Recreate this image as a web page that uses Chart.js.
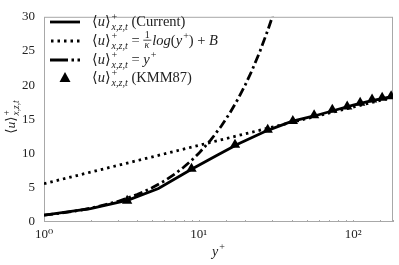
<!DOCTYPE html>
<html>
<head>
<meta charset="utf-8">
<script src="https://cdn.jsdelivr.net/npm/chart.js@4.4.1/dist/chart.umd.min.js"></script>
<style>
html, body { margin: 0; padding: 0; background: #fff; }
#wrap { width: 399px; height: 265px; }
</style>
</head>
<body>
<div id="wrap"><canvas id="myChart"></canvas></div>
<script>
// values
const currentYPlus = [1, 2, 3.5, 5.5, 9, 13, 18, 28, 40, 56, 75, 100, 130, 181];
const currentU = [1.0, 1.95, 3.2, 4.9, 7.7, 9.7, 11.4, 13.4, 14.7, 15.5, 16.3, 17.1, 17.7, 18.35];

const logLawYPlus = [1, 10, 100, 181];
const logLawU = [5.6, 11.2, 16.8, 18.25];

const linearYPlus = [1, 1.5, 2, 3, 4, 5, 6, 7, 8, 9, 10, 12, 14, 16, 18, 20, 22, 25, 28, 30, 32];
const linearU = [1, 1.5, 2, 3, 4, 5, 6, 7, 8, 9, 10, 12, 14, 16, 18, 20, 22, 25, 28, 30, 32];

const kmmYPlus = [3.45, 9.0, 17.2, 28.0, 40.7, 55.9, 73.3, 91.5, 111, 132.5, 154, 176];
const kmmU = [3.1, 7.8, 11.3, 13.5, 14.75, 15.6, 16.4, 16.9, 17.45, 17.9, 18.15, 18.4];

const xTickLabels = { 1: '10⁰', 10: '10¹', 100: '10²' };

const SERIF = '"Liberation Serif", "DejaVu Serif", serif';

const toXY = (xs, ys) => xs.map((x, i) => ({ x: x, y: ys[i] }));

function txt(ctx, s, x, y, size, italic) {
    ctx.font = (italic ? 'italic ' : '') + size + 'px ' + SERIF;
    ctx.fillText(s, x, y);
    return x + ctx.measureText(s).width;
}

// <u>^+_{x,z,t}
function uMean(ctx, x, y, size) {
    x = txt(ctx, '⟨', x, y, size, false);
    x = txt(ctx, 'u', x, y, size, true);
    x = txt(ctx, '⟩', x, y, size, false);
    const s = size * 0.7;
    const a = txt(ctx, '+', x + 1, y - size * 0.4, s, false);
    const b = txt(ctx, 'x,z,t', x + 1, y + size * 0.3, s, true);
    return Math.max(a, b);
}

const decor = {
    id: 'decor',
    beforeDatasetsDraw(chart) {
        const { ctx, chartArea: a } = chart;
        ctx.save();
        ctx.strokeStyle = '#a8a8a8';
        ctx.lineWidth = 1;
        ctx.strokeRect(a.left + 0.5, a.top + 0.5, a.right - a.left - 1, a.bottom - a.top - 1);
        const xs = chart.scales.x;
        ctx.beginPath();
        xs.ticks.forEach(t => {
            const px = Math.round(xs.getPixelForValue(t.value)) + 0.5;
            ctx.moveTo(px, a.bottom);
            ctx.lineTo(px, a.bottom - 2);
        });
        ctx.stroke();
        ctx.restore();
    },
    afterDraw(chart) {
        const { ctx } = chart;
        const size = 14.5;
        ctx.save();
        ctx.fillStyle = '#222';
        ctx.strokeStyle = '#000';
        ctx.textBaseline = 'alphabetic';

        // y axis title
        const ys = 13.5;
        ctx.save();
        const w = uMean(ctx, 0, -1000, ys);
        ctx.restore();
        ctx.save();
        ctx.fillStyle = '#fff';
        ctx.fillRect(0, 0, 0, 0);
        ctx.restore();
        ctx.save();
        ctx.fillStyle = '#222';
        ctx.translate(15, 117 + w / 2);
        ctx.rotate(-Math.PI / 2);
        uMean(ctx, 0, 0, ys);
        ctx.restore();

        // x axis title
        ctx.textAlign = 'left';
        let xx = txt(ctx, 'y', 212, 256, 14, true);
        txt(ctx, '+', xx + 1, 250, 10, false);

        // legend
        const rows = [22, 41, 60, 78];
        ctx.lineWidth = 2.8;
        ctx.lineCap = 'butt';
        ctx.beginPath();
        ctx.moveTo(50, rows[0]); ctx.lineTo(80, rows[0]);
        ctx.stroke();
        ctx.setLineDash([2.5, 4]);
        ctx.beginPath();
        ctx.moveTo(51, rows[1]); ctx.lineTo(81, rows[1]);
        ctx.stroke();
        ctx.setLineDash([18, 3.5, 2.5, 3.5, 2.5, 10]);
        ctx.beginPath();
        ctx.moveTo(50, rows[2]); ctx.lineTo(81, rows[2]);
        ctx.stroke();
        ctx.setLineDash([]);
        ctx.fillStyle = '#000';
        ctx.beginPath();
        ctx.moveTo(65, rows[3] - 6); ctx.lineTo(70.5, rows[3] + 4); ctx.lineTo(59.5, rows[3] + 4);
        ctx.closePath();
        ctx.fill();

        ctx.fillStyle = '#222';
        const tx = 92;
        let x;
        x = uMean(ctx, tx, rows[0] + 4, size);
        txt(ctx, ' (Current)', x, rows[0] + 4, size, false);

        const b2 = rows[1] + 4;
        x = uMean(ctx, tx, b2, size);
        x = txt(ctx, ' = ', x, b2, size, false);
        ctx.font = '10px ' + SERIF;
        const fw = Math.max(ctx.measureText('1').width, ctx.measureText('κ').width + 1) + 2;
        txt(ctx, '1', x + fw / 2 - 2.5, b2 - 7, 10, false);
        txt(ctx, 'κ', x + fw / 2 - 2.8, b2 + 3, 10, true);
        ctx.lineWidth = 0.7;
        ctx.beginPath();
        ctx.moveTo(x, b2 - 4.8); ctx.lineTo(x + fw, b2 - 4.8);
        ctx.stroke();
        x += fw + 1;
        x = txt(ctx, 'log', x, b2, size, true);
        x = txt(ctx, '(', x, b2, size, false);
        x = txt(ctx, 'y', x, b2, size, true);
        x = txt(ctx, '+', x + 1, b2 - size * 0.4, size * 0.7, false);
        x = txt(ctx, ') + ', x, b2, size, false);
        txt(ctx, 'B', x, b2, size, true);

        const b3 = rows[2] + 4;
        x = uMean(ctx, tx, b3, size);
        x = txt(ctx, ' = ', x, b3, size, false);
        x = txt(ctx, 'y', x, b3, size, true);
        txt(ctx, '+', x + 1, b3 - size * 0.4, size * 0.7, false);

        const b4 = rows[3] + 4;
        x = uMean(ctx, tx, b4, size);
        txt(ctx, ' (KMM87)', x, b4, size, false);
        ctx.restore();
    }
};

const ctx = document.getElementById('myChart');
const myChart = new Chart(ctx, {
    type: 'line',
    data: {
        datasets: [
            {
                label: 'Current',
                data: toXY(currentYPlus, currentU),
                borderColor: '#000',
                borderWidth: 2.8,
                pointRadius: 0,
                tension: 0,
            },
            {
                label: 'Log law',
                data: toXY(logLawYPlus, logLawU),
                borderColor: '#000',
                borderWidth: 2.8,
                borderDash: [2.5, 4],
                pointRadius: 0,
                tension: 0,
            },
            {
                label: 'Linear',
                data: toXY(linearYPlus, linearU),
                borderColor: '#000',
                borderWidth: 2.8,
                borderDash: [9, 3.5, 2.5, 3.5],
                pointRadius: 0,
                tension: 0,
            },
            {
                label: 'KMM87',
                data: toXY(kmmYPlus, kmmU),
                showLine: false,
                pointStyle: 'triangle',
                pointRadius: 6,
                backgroundColor: '#000',
                borderColor: '#000',
                borderWidth: 0,
            },
        ]
    },
    options: {
        responsive: true,
        maintainAspectRatio: false,
        animation: false,
        layout: { padding: { top: 7, right: 4, left: 0, bottom: 0 } },
        plugins: {
            legend: { display: false },
            tooltip: { enabled: false },
        },
        scales: {
            x: {
                type: 'logarithmic',
                min: 1,
                max: 181,
                grid: { display: false, drawTicks: false },
                border: { display: false },
                ticks: {
                    autoSkip: false,
                    maxRotation: 0,
                    padding: 5,
                    color: '#222',
                    font: { family: SERIF, size: 13 },
                    callback: value => xTickLabels[value] || '',
                },
                afterFit: scale => { scale.height = 43; },
            },
            y: {
                min: 0,
                max: 30,
                grid: { display: false, drawTicks: false },
                border: { display: false },
                ticks: {
                    stepSize: 5,
                    padding: 9,
                    color: '#222',
                    font: { family: SERIF, size: 13 },
                },
                afterFit: scale => { scale.width = 44; },
            },
        },
    },
    plugins: [decor],
});
</script>
</body>
</html>
